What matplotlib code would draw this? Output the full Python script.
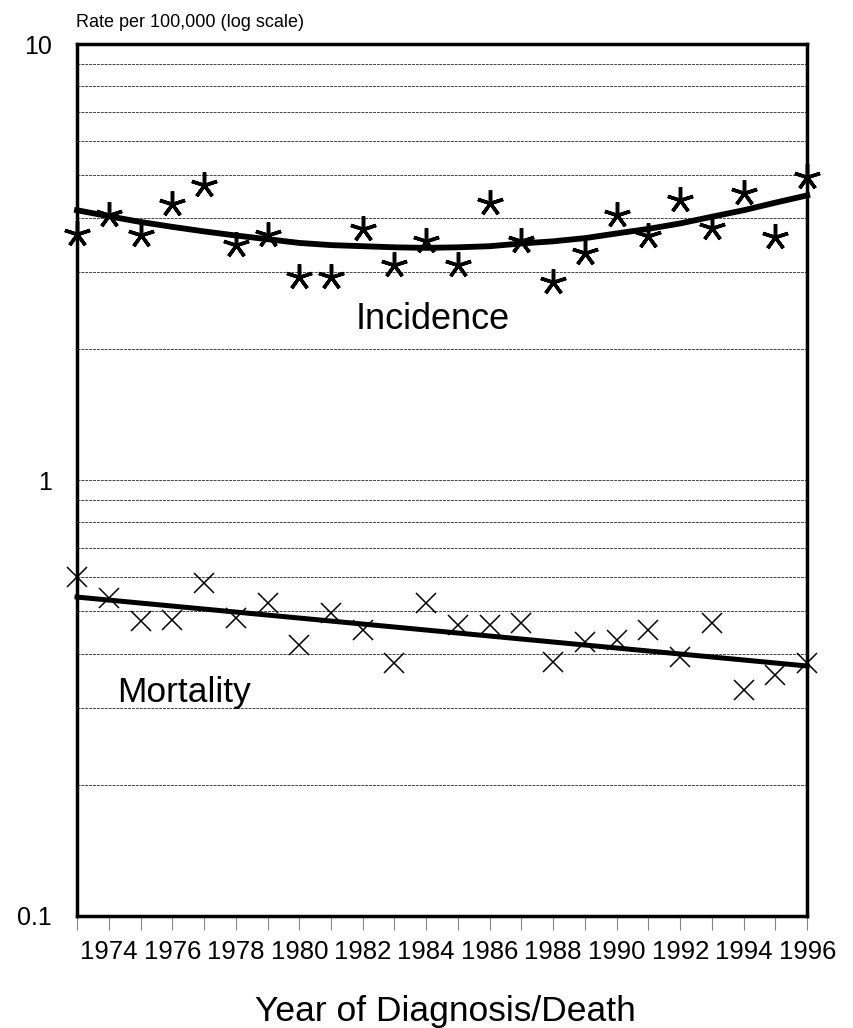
import numpy as np
import matplotlib
matplotlib.use('Agg')
import matplotlib.pyplot as plt
from matplotlib.ticker import FixedLocator, NullFormatter, LogLocator

plt.rcParams['font.family'] = ['Liberation Sans', 'DejaVu Sans']

# Datos
years = list(range(1973, 1997))
incidence = [3.67, 4.05, 3.65, 4.30, 4.75, 3.46, 3.65, 2.93, 2.93, 3.76, 3.12, 3.53,
             3.12, 4.32, 3.54, 2.84, 3.32, 4.05, 3.63, 4.40, 3.78, 4.55, 3.61, 4.95]
incidence_fit = [4.16, 4.03, 3.91, 3.81, 3.72, 3.64, 3.57, 3.50, 3.46, 3.44, 3.42, 3.41,
                 3.42, 3.44, 3.49, 3.53, 3.59, 3.68, 3.77, 3.88, 4.02, 4.16, 4.33, 4.50]
mortality = [0.599, 0.536, 0.475, 0.477, 0.580, 0.483, 0.522, 0.418, 0.495, 0.453, 0.380, 0.522,
             0.465, 0.465, 0.470, 0.382, 0.425, 0.430, 0.453, 0.393, 0.470, 0.330, 0.357, 0.380]
mort_fit_years = [1973, 1996]
mort_fit = [0.539, 0.3745]
year_labels = [str(y) for y in range(1974, 1997, 2)]

fig = plt.figure(figsize=(8.54, 10.28), dpi=100)
ax = fig.add_axes([0.0902, 0.109, 0.855, 0.848])

ax.set_yscale('log')
ax.set_ylim(0.1, 10)
ax.set_xlim(1973, 1996)

# Rejilla
ax.yaxis.set_major_locator(FixedLocator([0.1, 1, 10]))
ax.yaxis.set_minor_locator(LogLocator(base=10, subs=np.arange(2, 10)))
ax.yaxis.set_minor_formatter(NullFormatter())
ax.set_yticklabels(['0.1', '1', '10'])
ax.grid(True, which='both', axis='y', color='#444444', linestyle=(0, (3, 1)), linewidth=0.7)
ax.tick_params(axis='y', which='both', length=0, labelsize=18, pad=18)

ax.xaxis.set_major_locator(FixedLocator(range(1974, 1997, 2)))
ax.set_xticklabels(year_labels)
ax.xaxis.set_minor_locator(FixedLocator(range(1973, 1997)))
ax.tick_params(axis='x', which='both', direction='out', length=10, width=0.8,
               color='#888888', labelsize=18.5, pad=7)

for s in ax.spines.values():
    s.set_linewidth(2.5)
    s.set_color('black')

ax.plot(years, incidence, linestyle='none', marker=(5, 2, 0), markersize=19,
        markeredgewidth=2.5, color='black', clip_on=False, zorder=4)
ax.plot(years, incidence_fit, color='black', linewidth=4.2, zorder=3, clip_on=False)
ax.plot(years, mortality, linestyle='none', marker='x', markersize=14,
        markeredgewidth=1.1, color='black', clip_on=False, zorder=4)
ax.plot(mort_fit_years, mort_fit, color='black', linewidth=3.6, zorder=3, clip_on=False)

ax.text(1984.2, 2.33, 'Incidence', fontsize=26, ha='center', va='center')
ax.text(1974.25, 0.325, 'Mortality', fontsize=25.5, ha='left', va='center')

fig.text(0.089, 0.978, 'Rate per 100,000 (log scale)', fontsize=13, ha='left', va='center')
fig.text(0.522, 0.016, 'Year of Diagnosis/Death', fontsize=25.5, ha='center', va='center')

fig.savefig('out.png', dpi=100)
